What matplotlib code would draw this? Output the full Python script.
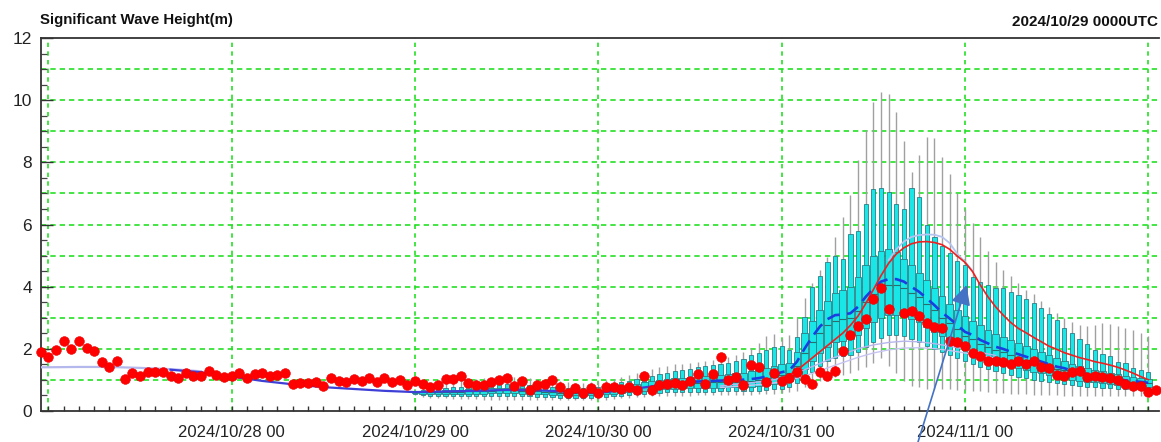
import numpy as np
import pandas as pd
import matplotlib
matplotlib.use("Agg")
import matplotlib.pyplot as plt
import matplotlib.dates as mdates
from matplotlib.ticker import MultipleLocator, FixedLocator, FixedFormatter

plt.rcParams["font.family"] = ["Liberation Sans", "DejaVu Sans"]

t0 = pd.Timestamp("2024-10-27 00:00")

# observed wave height, hourly from 2024/10/26 23 UTC (NaN = missing)
obs_start_hour = -1
obs_hs = [
    1.88, 1.74, 1.96, 2.26, 1.99, 2.25, 2.03, 1.93, 1.58, 1.42, 1.61, 1.02,
    1.20, 1.12, 1.26, 1.26, 1.26, 1.13, 1.06, 1.20, 1.12, 1.13, 1.28, 1.15,
    1.10, 1.12, 1.22, 1.06, 1.17, 1.20, 1.13, 1.15, 1.20, 0.86, 0.88, 0.88,
    0.93, 0.81, 1.04, 0.97, 0.94, 1.01, 0.97, 1.04, 0.91, 1.05, 0.92, 1.00,
    0.84, 0.95, 0.85, 0.75, 0.83, 1.01, 1.01, 1.11, 0.88, 0.84, 0.82, 0.92,
    0.98, 1.04, 0.79, 0.95, 0.68, 0.82, 0.85, 0.98, 0.75, 0.56, 0.72, 0.56,
    0.74, 0.57, 0.77, 0.77, 0.70, 0.77, 0.67, 1.12, 0.68, 0.84, 0.86, 0.88,
    0.83, 0.96, 1.19, 0.87, 1.19, 1.73, 1.00, 1.08, 0.83, 1.46, 1.40, 0.91,
    1.22, 0.97, 1.06, 1.26, 1.03, 0.86, 1.25, 1.11, 1.28, 1.91, 2.45, 2.72,
    2.96, 3.59, 3.97, 3.27, np.nan, 3.14, 3.22, 3.05, 2.82, 2.71, 2.65, 2.25,
    2.21, 2.10, 1.85, 1.75, 1.61, 1.59, 1.57, 1.50, 1.59, 1.51, 1.61, 1.42,
    1.38, 1.16, 1.11, 1.24, 1.27, 1.10, 1.11, 1.09, 1.04, 0.99, 0.86, 0.79,
    0.80, 0.61, 0.67,
]

# ensemble statistics, hourly from 2024/10/29 00 UTC (hour 48) to 11/2 00 UTC
ens_start_hour = 48
ens_min = [
    0.50, 0.45, 0.42, 0.40, 0.40, 0.38, 0.38, 0.37, 0.37, 0.36, 0.36, 0.36,
    0.36, 0.36, 0.36, 0.35, 0.35, 0.35, 0.34, 0.34, 0.33, 0.33, 0.33, 0.33,
    0.34,
    0.36, 0.38, 0.40, 0.42, 0.44, 0.45, 0.46, 0.47, 0.48, 0.48, 0.49, 0.49,
    0.50, 0.50, 0.50, 0.50, 0.51, 0.51, 0.52, 0.52, 0.53, 0.54, 0.55, 0.56,
    0.60, 0.65, 0.75, 0.85, 0.95, 1.05, 1.10, 1.15, 1.20, 1.30, 1.40, 1.55,
    1.70, 1.45, 1.20, 0.95, 0.80, 0.75, 0.70, 0.70, 0.70, 0.70, 0.68, 0.66,
    0.64, 0.62, 0.60, 0.58, 0.56, 0.55, 0.54, 0.53, 0.52, 0.51, 0.50, 0.50,
    0.49, 0.49, 0.48, 0.48, 0.48, 0.48, 0.47, 0.47, 0.47, 0.46, 0.46, 0.46,
]
ens_p10 = [
    0.54, 0.50, 0.48, 0.47, 0.47, 0.46, 0.46, 0.46, 0.46, 0.46, 0.47, 0.47,
    0.47, 0.47, 0.46, 0.46, 0.45, 0.44, 0.43, 0.42, 0.42, 0.41, 0.41, 0.42,
    0.43,
    0.45, 0.47, 0.49, 0.51, 0.53, 0.55, 0.57, 0.58, 0.59, 0.60, 0.60, 0.60,
    0.61, 0.61, 0.61, 0.62, 0.62, 0.62, 0.63, 0.64, 0.65, 0.67, 0.69, 0.71,
    0.78, 0.88, 1.05, 1.25, 1.45, 1.60, 1.70, 1.75, 1.80, 1.90, 2.05, 2.20,
    2.35, 2.45, 2.45, 2.40, 2.30, 2.20, 2.10, 2.00, 1.90, 1.80, 1.70, 1.60,
    1.50, 1.42, 1.35, 1.28, 1.22, 1.16, 1.10, 1.05, 1.00, 0.96, 0.92, 0.88,
    0.85, 0.82, 0.80, 0.78, 0.76, 0.74, 0.72, 0.70, 0.69, 0.68, 0.67, 0.66,
]
ens_p25 = [
    0.57, 0.55, 0.54, 0.53, 0.53, 0.53, 0.54, 0.54, 0.55, 0.55, 0.56, 0.56,
    0.56, 0.56, 0.55, 0.55, 0.54, 0.53, 0.52, 0.51, 0.50, 0.50, 0.50, 0.50,
    0.51,
    0.53, 0.55, 0.57, 0.60, 0.62, 0.65, 0.67, 0.69, 0.70, 0.71, 0.72, 0.72,
    0.73, 0.73, 0.74, 0.74, 0.75, 0.75, 0.76, 0.77, 0.79, 0.82, 0.85, 0.88,
    0.95, 1.10, 1.35, 1.60, 1.85, 2.05, 2.20, 2.25, 2.30, 2.45, 2.65, 2.85,
    3.00, 3.10, 3.10, 3.05, 2.95, 2.85, 2.70, 2.55, 2.40, 2.25, 2.10, 1.95,
    1.85, 1.75, 1.65, 1.58, 1.50, 1.44, 1.38, 1.32, 1.26, 1.20, 1.15, 1.10,
    1.05, 1.00, 0.97, 0.94, 0.91, 0.89, 0.87, 0.84, 0.82, 0.80, 0.79, 0.78,
]
ens_med = [
    0.60, 0.59, 0.59, 0.59, 0.60, 0.60, 0.61, 0.62, 0.63, 0.64, 0.65, 0.66,
    0.66, 0.66, 0.65, 0.64, 0.63, 0.61, 0.60, 0.58, 0.57, 0.56, 0.56, 0.56,
    0.58,
    0.60, 0.63, 0.66, 0.70, 0.73, 0.77, 0.80, 0.82, 0.84, 0.86, 0.87, 0.88,
    0.89, 0.90, 0.91, 0.92, 0.93, 0.94, 0.95, 0.97, 1.00, 1.05, 1.10, 1.16,
    1.22, 1.45, 1.85, 2.20, 2.50, 2.75, 2.90, 2.95, 3.00, 3.20, 3.50, 3.75,
    3.95, 4.05, 4.05, 3.95, 3.80, 3.65, 3.45, 3.25, 3.00, 2.82, 2.62, 2.42,
    2.30, 2.15, 2.05, 1.95, 1.88, 1.80, 1.72, 1.64, 1.56, 1.50, 1.43, 1.36,
    1.30, 1.24, 1.19, 1.14, 1.10, 1.07, 1.03, 0.99, 0.96, 0.93, 0.91, 0.89,
]
ens_p75 = [
    0.62, 0.63, 0.64, 0.65, 0.66, 0.67, 0.68, 0.69, 0.70, 0.71, 0.72, 0.73,
    0.73, 0.73, 0.72, 0.71, 0.70, 0.68, 0.67, 0.65, 0.64, 0.63, 0.63, 0.64,
    0.66,
    0.69, 0.73, 0.77, 0.82, 0.86, 0.91, 0.95, 0.98, 1.01, 1.04, 1.06, 1.08,
    1.10, 1.12, 1.14, 1.16, 1.18, 1.20, 1.23, 1.27, 1.32, 1.38, 1.45, 1.50,
    1.55, 1.90, 2.50, 2.90, 3.25, 3.55, 3.80, 3.90, 4.00, 4.30, 4.70, 5.00,
    5.15, 5.20, 5.10, 4.90, 4.70, 4.45, 4.20, 3.95, 3.70, 3.45, 3.25, 3.05,
    2.90, 2.75, 2.60, 2.48, 2.38, 2.28, 2.18, 2.08, 1.98, 1.88, 1.78, 1.70,
    1.60, 1.52, 1.45, 1.38, 1.32, 1.27, 1.22, 1.17, 1.12, 1.08, 1.05, 1.02,
]
ens_p90 = [
    0.64, 0.67, 0.69, 0.71, 0.73, 0.75, 0.76, 0.78, 0.80, 0.82, 0.84, 0.86,
    0.86, 0.86, 0.85, 0.83, 0.81, 0.79, 0.77, 0.75, 0.74, 0.73, 0.73, 0.75,
    0.78,
    0.82, 0.86, 0.91, 0.96, 1.01, 1.07, 1.12, 1.17, 1.22, 1.27, 1.31, 1.36,
    1.40, 1.43, 1.46, 1.50, 1.55, 1.60, 1.68, 1.78, 1.87, 1.96, 2.05, 2.10,
    1.95, 2.38, 3.03, 3.98, 4.34, 4.80, 5.00, 4.90, 5.70, 5.80, 6.65, 7.14,
    7.19, 7.06, 6.65, 6.50, 7.19, 6.90, 6.00, 5.60, 5.30, 5.07, 4.84, 4.68,
    4.30, 4.16, 4.05, 3.94, 3.94, 3.84, 3.73, 3.59, 3.46, 3.30, 3.12, 2.92,
    2.67, 2.49, 2.30, 2.15, 1.96, 1.82, 1.75, 1.58, 1.53, 1.37, 1.31, 1.26,
]
ens_max = [
    0.68, 0.78, 0.84, 0.88, 0.92, 0.96, 0.98, 1.00, 1.02, 1.04, 1.06, 1.08,
    1.08, 1.08, 1.06, 1.04, 1.02, 1.00, 0.98, 0.95, 0.92, 0.90, 0.90, 0.92,
    0.95,
    0.98, 1.03, 1.08, 1.14, 1.20, 1.28, 1.34, 1.40, 1.45, 1.50, 1.52, 1.55,
    1.58, 1.60, 1.64, 1.68, 1.72, 1.78, 1.88, 2.02, 2.18, 2.40, 2.48, 2.35,
    2.45, 3.03, 3.62, 4.10, 4.53, 4.96, 5.61, 6.25, 6.95, 8.08, 9.05, 9.96,
    10.28, 10.20, 9.64, 8.69, 7.70, 8.24, 8.83, 8.78, 8.19, 7.62, 7.00, 6.50,
    6.05, 5.60, 5.15, 4.80, 4.55, 4.35, 4.10, 3.90, 3.75, 3.55, 3.35, 3.15,
    3.00, 2.85, 2.75, 2.73, 2.76, 2.82, 2.80, 2.73, 2.65, 2.60, 2.50, 2.40,
]

# ensemble mean (dashed), hourly from hour 84
mean_start_hour = 84
ens_mean = [
    0.93, 0.94, 0.95, 0.96, 0.97, 0.98, 0.99, 1.00, 1.02, 1.05, 1.10, 1.17,
    1.24, 1.30, 1.58, 2.00, 2.38, 2.71, 2.95, 3.08, 3.10, 3.14, 3.35, 3.67,
    3.93, 4.16, 4.24, 4.24, 4.16, 3.99, 3.83, 3.62, 3.40, 3.16, 2.97, 2.76,
    2.54, 2.44, 2.28, 2.17, 2.06, 1.99, 1.90, 1.82, 1.74, 1.66, 1.58, 1.50,
    1.42, 1.37, 1.29, 1.23, 1.18, 1.15, 1.12, 1.07, 1.01, 0.98, 0.95, 0.93,
    0.90,
]

# hindcast / analysis lines
early_hours = [-1, 0, 4, 8, 12, 16, 20]
early_hs = [1.40, 1.40, 1.41, 1.41, 1.38, 1.34, 1.27]
anal_hours = [16, 20, 24, 28, 32, 36, 40, 44, 48, 52, 56, 60, 64, 68, 72, 76, 80, 84]
anal_hs = [1.32, 1.24, 1.10, 0.96, 0.85, 0.76, 0.70, 0.64, 0.60, 0.62, 0.64,
           0.67, 0.66, 0.61, 0.58, 0.68, 0.82, 0.93]

# deterministic forecast (red), hourly from hour 96
det_start_hour = 96
det_hs = [
    1.05, 1.15, 1.30, 1.50, 1.70, 1.90, 2.10, 2.30, 2.50, 2.75, 3.05, 3.45,
    3.90, 4.35, 4.75, 5.05, 5.25, 5.38, 5.44, 5.45, 5.42, 5.35, 5.20, 4.98,
    4.78, 4.48, 4.05, 3.67, 3.35, 3.08, 2.84, 2.65, 2.51, 2.36, 2.22, 2.08,
    1.98, 1.87, 1.79, 1.71, 1.65, 1.58, 1.53, 1.47, 1.40, 1.31, 1.21, 1.10,
    1.00,
]

# other model runs (thin light lines)
peak_hours = [110, 111, 112, 113, 114, 115, 116, 117, 118, 119, 120, 121]
peak_hs = [4.85, 5.20, 5.45, 5.60, 5.66, 5.68, 5.67, 5.60, 5.40, 5.05, 4.80, 4.50]
low_hours = [88, 90, 92, 94, 96, 98, 100, 102, 104, 106, 108, 110, 112, 114,
             116, 118, 120, 122, 124]
low1_hs = [0.80, 0.85, 0.90, 0.96, 1.05, 1.22, 1.42, 1.63, 1.82, 2.00, 2.12,
           2.20, 2.24, 2.22, 2.16, 2.08, 1.98, 1.88, 1.78]
low2_hs = [0.75, 0.78, 0.82, 0.86, 0.93, 1.05, 1.20, 1.38, 1.55, 1.72, 1.86,
           1.96, 2.02, 2.03, 2.00, 1.94, 1.86, 1.78, 1.70]

day_labels = ["", "2024/10/28 00", "2024/10/29 00", "2024/10/30 00",
              "2024/10/31 00", "2024/11/1 00", ""]


def to_time(hours):
    return t0 + pd.to_timedelta(np.asarray(hours, dtype=float), unit="h")


obs_t = to_time(np.arange(len(obs_hs)) + obs_start_hour)
ens_t = to_time(np.arange(len(ens_med)) + ens_start_hour)
mean_t = to_time(np.arange(len(ens_mean)) + mean_start_hour)
det_t = to_time(np.arange(len(det_hs)) + det_start_hour)

ens_min = np.array(ens_min)
ens_p10 = np.array(ens_p10)
ens_p25 = np.array(ens_p25)
ens_med = np.array(ens_med)
ens_p75 = np.array(ens_p75)
ens_p90 = np.array(ens_p90)
ens_max = np.array(ens_max)

fig = plt.figure(figsize=(11.61, 4.42), dpi=100)
ax = fig.add_axes([0.0349, 0.0708, 0.9634, 0.8425])

px_day = 183.4  # pixels per day on the time axis
narrow_w = 4.2 / px_day
wide_w = 6.8 / px_day

# grid
for day in range(7):
    ax.axvline(t0 + pd.Timedelta(days=day), color="#22e022", lw=1.2,
               dashes=(2.6, 2.6), zorder=0.5)
for v in range(1, 12):
    ax.axhline(v, color="#22e022", lw=1.2, dashes=(3.2, 2.4), zorder=0.5)

# ensemble boxes
ax.vlines(ens_t, ens_min, ens_max, color="#a0a0a0", lw=1.0, zorder=2)
ax.bar(ens_t, ens_p90 - ens_p10, bottom=ens_p10, width=narrow_w,
       color="#19e6e6", edgecolor="#2a7f86", lw=0.6, zorder=3)
ax.bar(ens_t, ens_p75 - ens_p25, bottom=ens_p25, width=wide_w,
       color="#19e6e6", edgecolor="#2a7f86", lw=0.6, zorder=3.1)
ax.hlines(ens_med, ens_t - pd.Timedelta(hours=0.45), ens_t + pd.Timedelta(hours=0.45),
          color="#2a6f70", lw=0.8, zorder=3.2)

# model lines
ax.plot(to_time(low_hours), low1_hs, color="#b9b6ee", lw=1.0, zorder=3.5)
ax.plot(to_time(low_hours), low2_hs, color="#c8c4f2", lw=1.0, zorder=3.5)
ax.plot(to_time(peak_hours), peak_hs, color="#b5c3ef", lw=1.3, zorder=3.6)
ax.plot(to_time(early_hours), early_hs, color="#b4b8ec", lw=1.6, zorder=3.6)
ax.plot(to_time(anal_hours), anal_hs, color="#3d3fd6", lw=1.6, zorder=3.7)
ax.plot(mean_t, ens_mean, color="#1a3fe0", lw=1.9, dashes=(5, 2.8), zorder=3.8)
ax.plot(det_t, det_hs, color="#ee2020", lw=1.2, zorder=3.9)

# observations
ax.plot(obs_t, obs_hs, "o", color="#ff0000", ms=7.0, mec="#ee0000", mew=0.4,
        zorder=5, clip_on=False)

# axes styling
ax.set_ylim(0, 12)
ax.set_xlim(to_time([-1.02])[0], to_time([145.4])[0])
ax.yaxis.set_major_locator(MultipleLocator(2))
ax.yaxis.set_minor_locator(MultipleLocator(0.5))
ax.tick_params(axis="y", which="major", direction="in", length=8.5, width=1.0,
               color="#333333", labelsize=12.5, pad=6, labelcolor="#222222")
ax.tick_params(axis="y", which="minor", direction="in", length=4.3, width=0.9,
               color="#444444")

day_ticks = mdates.date2num(to_time(np.arange(7) * 24))
ax.xaxis.set_major_locator(FixedLocator(day_ticks))
ax.xaxis.set_major_formatter(FixedFormatter(day_labels))
ax.xaxis.set_minor_locator(FixedLocator(mdates.date2num(to_time(np.arange(0, 146, 2)))))
ax.tick_params(axis="x", which="both", direction="in", length=3.8, width=1.0,
               color="#333333", labelsize=12, pad=10.5, labelcolor="#222222")

for side in ["left", "bottom", "top"]:
    ax.spines[side].set_color("#333333")
    ax.spines[side].set_linewidth(1.3)
ax.spines["right"].set_visible(False)

fig.text(40 / 1161, 1 - 20 / 442, "Significant Wave Height(m)", fontsize=10.8,
         fontweight="bold", va="center", ha="left", color="#111111")
fig.text(1158 / 1161, 1 - 22 / 442, "2024/10/29 0000UTC", fontsize=11,
         fontweight="bold", va="center", ha="right", color="#111111")

# pointer arrow
ax.annotate("", xy=(to_time([120.2])[0], 4.05), xycoords="data",
            xytext=(918 / 1161, 0.0), textcoords="figure fraction",
            arrowprops=dict(arrowstyle="-|>", color="#4472c4", lw=1.2,
                            mutation_scale=30, shrinkA=0, shrinkB=0),
            zorder=6, annotation_clip=False)

fig.savefig("out.png", dpi=100)
